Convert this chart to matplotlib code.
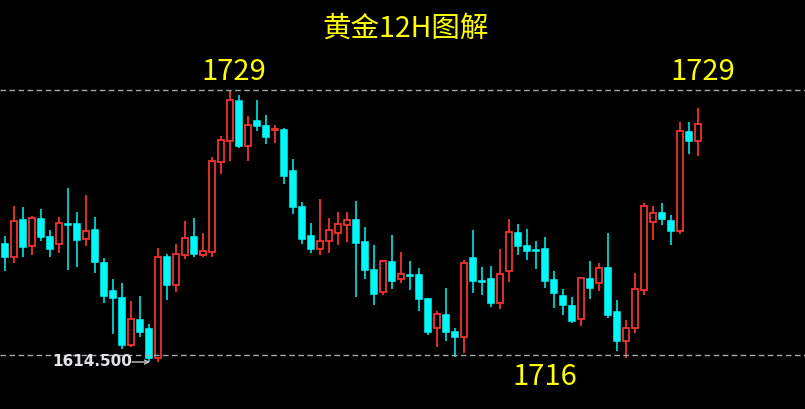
import matplotlib
matplotlib.use("Agg")
import matplotlib.pyplot as plt
import numpy as np

plt.rcParams['font.family'] = ['Noto Sans CJK SC', 'DejaVu Sans']

# 12H candles
opens = [1670.5, 1663.5, 1682.5, 1669, 1683, 1674, 1670, 1680.5, 1680.5, 1672.5,
         1677.5, 1661, 1647, 1643.5, 1619.5, 1632.5, 1628, 1613, 1664, 1649.5,
         1664.5, 1674, 1664.5, 1666, 1711, 1721.5, 1742, 1719, 1732, 1729.5,
         1727, 1727.5, 1707, 1689, 1674.5, 1667.5, 1671.5, 1675.5, 1679.5, 1682.5,
         1671.5, 1657.5, 1646, 1661.5, 1652.5, 1655, 1655, 1643, 1628, 1635,
         1626.5, 1623.5, 1663.5, 1652, 1653, 1640.5, 1656.5, 1676, 1669.5, 1667.5,
         1668, 1652.5, 1644.5, 1639.5, 1632.5, 1653, 1650.5, 1658.5, 1636.5, 1621.5,
         1628, 1647, 1681, 1686, 1682, 1676.5, 1726.5, 1721.5]
closes = [1663.5, 1681.5, 1668.5, 1683, 1673.5, 1667.5, 1680.5, 1679.5, 1672, 1676.5,
          1661, 1644, 1643, 1619.5, 1632.5, 1626, 1613, 1663.5, 1649.5, 1665,
          1673, 1665, 1666.5, 1711.5, 1722, 1742, 1719, 1729.5, 1729, 1723.5,
          1727.5, 1704, 1688.5, 1672.5, 1667.5, 1671.5, 1677, 1680, 1682, 1670.5,
          1657, 1645, 1661.5, 1651.5, 1655, 1654, 1642.5, 1626, 1635, 1626,
          1623.5, 1660.5, 1651.5, 1651, 1640.5, 1655, 1676, 1669, 1666.5, 1666.5,
          1651.5, 1645.5, 1639.5, 1631.5, 1653, 1648, 1658, 1634.5, 1621.5, 1628,
          1647.5, 1689, 1685.5, 1682.5, 1676.5, 1726.5, 1721.5, 1730]
highs = [1674, 1689, 1688.5, 1684, 1687.5, 1677, 1683.5, 1698, 1686, 1694.5,
         1683.5, 1663, 1652.5, 1650.5, 1641.5, 1644, 1630, 1668, 1665, 1670,
         1681.5, 1683, 1675.5, 1713.5, 1724, 1746.5, 1744.5, 1734, 1742, 1734.5,
         1729.5, 1728, 1712.5, 1691, 1680.5, 1692.5, 1683, 1686, 1686, 1691.5,
         1678.5, 1669.5, 1662, 1674.5, 1666, 1661.5, 1658, 1643, 1636.5, 1648,
         1628, 1662, 1677, 1658.5, 1659, 1667.5, 1682.5, 1680, 1677.5, 1671.5,
         1673.5, 1656.5, 1647.5, 1643.5, 1653.5, 1661.5, 1660.5, 1675.5, 1642, 1632,
         1655.5, 1690.5, 1689, 1690.5, 1684.5, 1731, 1731, 1738]
lows = [1656.5, 1660.5, 1663.5, 1664.5, 1671.5, 1663.5, 1665.5, 1657, 1658.5, 1669,
        1655.5, 1640.5, 1625, 1617.5, 1618.5, 1623.5, 1611, 1611, 1642, 1646,
        1662.5, 1663.5, 1663.5, 1663.5, 1705, 1711.5, 1718, 1711.5, 1726.5, 1720,
        1720.5, 1700, 1685, 1670, 1665.5, 1664.5, 1665.5, 1669.5, 1671, 1643.5,
        1652.5, 1639.5, 1644.5, 1647.5, 1650.5, 1647, 1636.5, 1624.5, 1618.5, 1621.5,
        1613.5, 1615.5, 1645.5, 1644.5, 1638.5, 1637.5, 1651, 1664.5, 1662, 1657.5,
        1648, 1638, 1634.5, 1630.5, 1629, 1642.5, 1646.5, 1633, 1616.5, 1613,
        1625.5, 1644.5, 1672, 1679.5, 1669.5, 1675, 1715, 1714]

upper_level = 1747
lower_level = 1614.5
title = "黄金12H图解"

up_col = '#f0342c'
down_col = '#00f8f8'

fig = plt.figure(figsize=(8.05, 4.09), dpi=100, facecolor='black')
ax = fig.add_axes([0, 0, 1, 1])
ax.set_facecolor('black')

x = np.arange(len(opens))
o = np.array(opens)
c = np.array(closes)
up = c >= o

# wicks first so hollow bodies cover them
ax.vlines(x[up], np.array(lows)[up], np.array(highs)[up], color=up_col, lw=1.3, zorder=1)
ax.vlines(x[~up], np.array(lows)[~up], np.array(highs)[~up], color=down_col, lw=1.1, zorder=1)

bottom = np.minimum(o, c)
height = np.maximum(np.abs(c - o), 0.5)
ax.bar(x[up], height[up], bottom=bottom[up], width=0.68,
       facecolor='black', edgecolor=up_col, linewidth=1.3, zorder=2)
ax.bar(x[~up], height[~up], bottom=bottom[~up], width=0.78,
       facecolor=down_col, edgecolor=down_col, linewidth=0.4, zorder=2)

for lvl in (upper_level, lower_level):
    ax.axhline(lvl, color='#a8a8a8', lw=1, dashes=(4, 2.5), zorder=3)

ax.set_xlim(-0.522, -0.522 + 805 / 9)
ax.set_ylim(1587.5, 1792)
ax.axis('off')

fig.text(406 / 805, 1 - 29 / 409, title, color='#ffff00', fontsize=20.5,
         ha='center', va='center')
fig.text(234 / 805, 1 - 72 / 409, "1729", color='#ffff00', fontsize=21,
         ha='center', va='center')
fig.text(703 / 805, 1 - 72 / 409, "1729", color='#ffff00', fontsize=21,
         ha='center', va='center')
fig.text(545 / 805, 1 - 377 / 409, "1716", color='#ffff00', fontsize=21,
         ha='center', va='center')
fig.text(52 / 805, 1 - 362 / 409, "1614.500", color='#e0e4ea', fontsize=11,
         fontweight='bold', family='DejaVu Sans', ha='left', va='center', zorder=5)
ax.annotate("", xy=(150, 409 - 362), xytext=(132, 409 - 362),
            xycoords='figure pixels', textcoords='figure pixels',
            arrowprops=dict(arrowstyle='->', color='#c8c8c8', lw=1,
                            shrinkA=0, shrinkB=0, mutation_scale=7),
            zorder=5)

fig.savefig('out.png', dpi=100, facecolor='black')
